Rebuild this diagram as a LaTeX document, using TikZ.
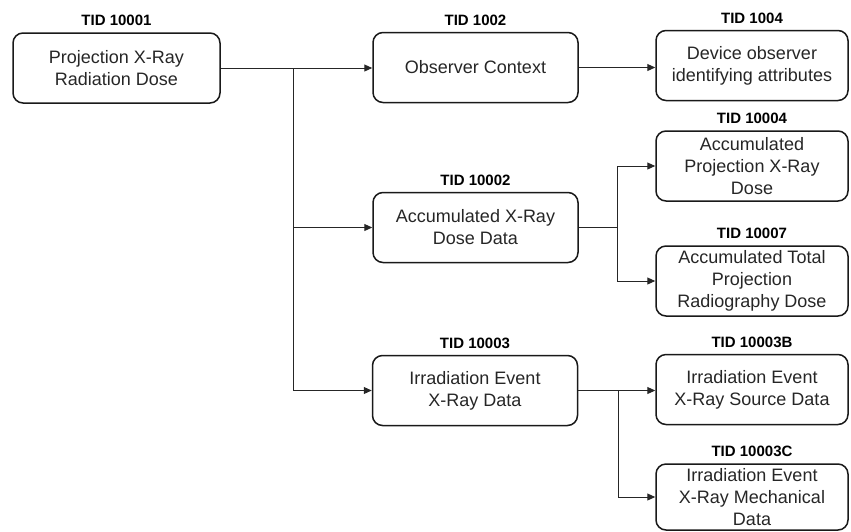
\documentclass[tikz,border=0pt]{standalone}
\usepackage{fontspec}
\setmainfont{Liberation Sans}
\usetikzlibrary{arrows.meta}
\begin{document}
\begin{tikzpicture}[x=1pt,y=-1pt,
  box/.style={draw=black!90, line width=1.5pt, rounded corners=10pt, minimum height=70pt,
    inner sep=0pt, align=center, font=\fontsize{18}{22}\selectfont, text=black!85},
  sidebox/.style={box, minimum width=192pt},
  midbox/.style={box, minimum width=205pt},
  tid/.style={font=\bfseries\fontsize{15}{18}\selectfont, inner sep=0pt, anchor=south, text=black},
  conn/.style={line width=1pt, draw=black!85},
  arr/.style={conn, -{Triangle[length=8pt,width=7pt]}}]
\useasboundingbox (0,0) rectangle (851,531);

% boxes
\node[box, minimum width=207pt] (b1) at (116.5,68) {Projection X-Ray\\Radiation Dose};
\node[midbox] (obs) at (475.5,67.5) {Observer Context};
\node[sidebox] (dev) at (752,65.5) {Device observer\\identifying attributes};
\node[midbox] (accx) at (475.5,227.5) {Accumulated X-Ray\\Dose Data};
\node[sidebox] (accp) at (752,166) {Accumulated\\Projection X-Ray\\Dose};
\node[sidebox] (acct) at (752,281) {Accumulated Total\\Projection\\Radiography Dose};
\node[midbox] (irr) at (475,390.5) {Irradiation Event\\X-Ray Data};
\node[sidebox] (src) at (752,389.5) {Irradiation Event\\X-Ray Source Data};
\node[sidebox, minimum height=66pt] (mech) at (752,497) {Irradiation Event\\X-Ray Mechanical\\Data};

% TID labels
\node[tid] (t1) at ([yshift=6pt]b1.north) {TID 10001};
\node[tid] (t2) at ([yshift=6pt]obs.north) {TID 1002};
\node[tid] (t3) at ([yshift=6pt]dev.north) {TID 1004};
\node[tid] (t4) at ([yshift=6pt]accx.north) {TID 10002};
\node[tid] (t5) at ([yshift=6pt]accp.north) {TID 10004};
\node[tid] (t6) at ([yshift=6pt]acct.north) {TID 10007};
\node[tid] (t7) at ([yshift=6pt]irr.north) {TID 10003};
\node[tid] (t8) at ([yshift=6pt]src.north) {TID 10003B};
\node[tid] (t9) at ([yshift=6pt]mech.north) {TID 10003C};

% junctions
\coordinate (j1) at ([xshift=73pt]b1.east);
\coordinate (j2) at ([xshift=39pt]accx.east);
\coordinate (j3) at ([xshift=40pt]irr.east);

% connectors
\draw[arr] (b1.east) -- (obs.west |- b1.east);
\draw[arr] (j1) |- (accx.west);
\draw[arr] (j1) |- (irr.west);
\draw[arr] (obs.east) -- (dev.west |- obs.east);
\draw[conn] (accx.east) -- (j2);
\draw[arr] (j2) |- (accp.west);
\draw[arr] (j2) |- (acct.west);
\draw[arr] (irr.east) -- (src.west |- irr.east);
\draw[arr] (j3) |- (mech.west);
\end{tikzpicture}
\end{document}
